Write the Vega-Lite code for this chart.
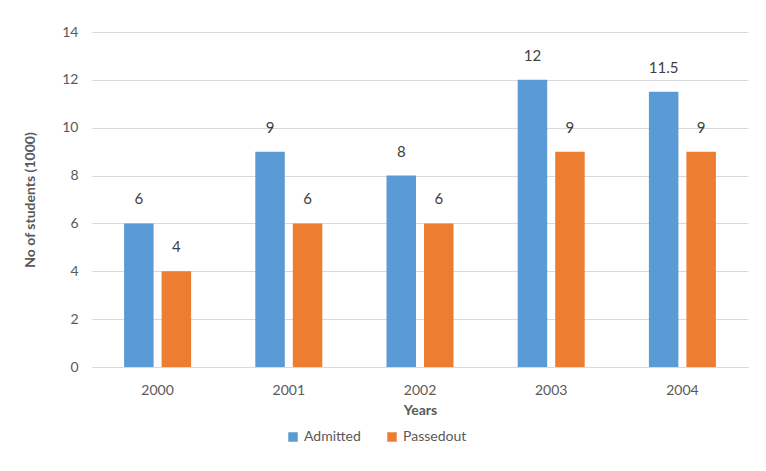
{
  "$schema": "https://vega.github.io/schema/vega-lite/v6.json",
  "autosize": "none",
  "width": 656,
  "height": 335,
  "padding": {"left": 92, "top": 32, "right": 18, "bottom": 104},
  "background": "white",
  "config": {
    "font": "Lato",
    "view": {"stroke": null},
    "axis": {"labelFont": "Lato", "titleFont": "Lato", "labelColor": "#595959", "titleColor": "#595959", "labelFontSize": 14, "titleFontSize": 14}
  },
  "data": {
    "values": [
      {"year": "2000", "series": "Admitted", "value": 6},
      {"year": "2000", "series": "Passedout", "value": 4},
      {"year": "2001", "series": "Admitted", "value": 9},
      {"year": "2001", "series": "Passedout", "value": 6},
      {"year": "2002", "series": "Admitted", "value": 8},
      {"year": "2002", "series": "Passedout", "value": 6},
      {"year": "2003", "series": "Admitted", "value": 12},
      {"year": "2003", "series": "Passedout", "value": 9},
      {"year": "2004", "series": "Admitted", "value": 11.5},
      {"year": "2004", "series": "Passedout", "value": 9}
    ]
  },
  "encoding": {
    "x": {
      "field": "year", "type": "nominal",
      "scale": {"paddingInner": 0, "paddingOuter": 0},
      "axis": {"title": "Years", "titleFontWeight": "bold", "labelAngle": 0, "labelPadding": 16, "ticks": false, "domainColor": "#d9d9d9", "titlePadding": 6}
    },
    "xOffset": {"field": "series", "scale": {"paddingInner": 0.213, "paddingOuter": 0.856}},
    "y": {
      "field": "value", "type": "quantitative",
      "scale": {"domain": [0, 14], "nice": false},
      "axis": {"title": "No of students (1000)", "titleFontWeight": "bold", "values": [0, 2, 4, 6, 8, 10, 12, 14], "labelOverlap": false, "domain": false, "ticks": false, "gridColor": "#d9d9d9", "labelPadding": 14, "titlePadding": 24}
    }
  },
  "layer": [
    {
      "mark": {"type": "bar"},
      "encoding": {
        "color": {
          "field": "series", "type": "nominal",
          "scale": {"domain": ["Admitted", "Passedout"], "range": ["#5b9bd5", "#ed7d31"]},
          "legend": {"title": null, "orient": "none", "direction": "horizontal", "legendX": 194, "legendY": 398, "symbolType": "square", "symbolSize": 90, "labelFontSize": 14, "labelColor": "#595959", "labelFont": "Lato", "columnPadding": 24, "symbolStrokeWidth": 0}
        }
      }
    },
    {
      "mark": {"type": "text", "baseline": "middle", "dy": -24, "fontSize": 15, "color": "#404040"},
      "encoding": {"text": {"field": "value", "type": "quantitative"}}
    }
  ]
}
